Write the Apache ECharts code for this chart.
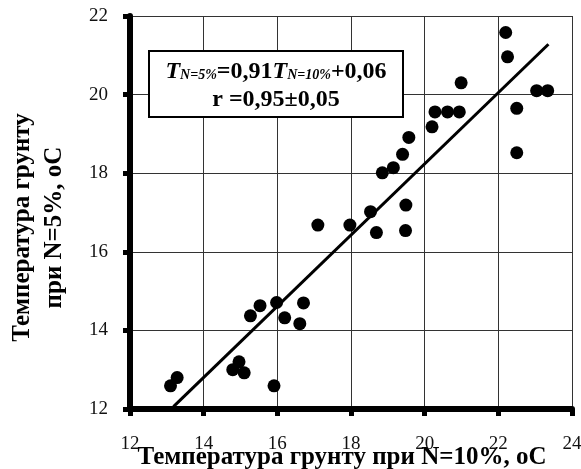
<!DOCTYPE html>
<html>
<head>
    <meta charset="utf-8">
    <script src="https://cdn.jsdelivr.net/npm/echarts/dist/echarts.min.js"></script>
</head>
<body style="margin:0;background:#fff;">
<div id="main" style="width:581px;height:469px;"></div>
<script type="text/javascript">
    // температура при N=10% (x) і N=5% (y)
    var tempN10 = [22.20, 22.25, 20.99, 23.04, 23.34, 22.50, 20.28, 20.62, 20.94, 20.20, 22.50,
                   19.57, 19.40, 19.15, 18.85, 19.49, 18.53, 17.10, 17.97, 18.69, 19.48,
                   15.53, 15.98, 16.71, 15.27, 16.20, 16.61, 14.96, 14.79, 15.10, 13.28, 13.10, 15.91];
    var tempN5  = [21.58, 20.96, 20.30, 20.10, 20.10, 19.65, 19.56, 19.56, 19.56, 19.18, 18.52,
                   18.91, 18.48, 18.14, 18.01, 17.19, 17.02, 16.68, 16.68, 16.49, 16.54,
                   14.63, 14.71, 14.70, 14.37, 14.32, 14.17, 13.20, 13.00, 12.92, 12.80, 12.59, 12.59];
    // лінія регресії, кінці
    var fitX = [13.18, 23.36];
    var fitY = [12.06, 21.28];
    var xTicks = [12, 24, 2];
    var yTicks = [12, 22, 2];

    var points = [];
    for (var i = 0; i < tempN10.length; i++) {
        points.push([tempN10[i], tempN5[i]]);
    }
    var fitLine = [[fitX[0], fitY[0]], [fitX[1], fitY[1]]];

    var font = 'Liberation Serif';
    var myChart = echarts.init(document.getElementById('main'));

    var option = {
        animation: false,
        backgroundColor: '#fff',
        grid: {left: 130, right: 9, top: 16, bottom: 60, containLabel: false, outerBoundsMode: 'none'},
        xAxis: {
            type: 'value',
            min: xTicks[0], max: xTicks[1], interval: xTicks[2],
            name: 'Температура грунту при N=10%, оС',
            nameLocation: 'middle',
            nameGap: 36,
            nameMoveOverlap: false,
            nameTextStyle: {
                fontFamily: font, fontSize: 25, fontWeight: 'bold', color: '#000',
                lineHeight: 25, padding: [0, 18, 0, 0]
            },
            axisLine: {show: true, lineStyle: {color: '#000', width: 6}},
            axisTick: {show: true, length: 7, lineStyle: {color: '#000', width: 5}},
            axisLabel: {fontFamily: font, fontSize: 19, color: '#111', margin: 26},
            splitLine: {show: true, lineStyle: {color: '#333', width: 1}}
        },
        yAxis: {
            type: 'value',
            min: yTicks[0], max: yTicks[1], interval: yTicks[2],
            name: 'Температура грунту\nпри N=5%, оС',
            nameLocation: 'middle',
            nameGap: 59,
            nameMoveOverlap: false,
            nameTextStyle: {
                fontFamily: font, fontSize: 25, fontWeight: 'bold', color: '#000',
                lineHeight: 32, padding: [0, 30, 0, 0]
            },
            axisLine: {show: true, lineStyle: {color: '#000', width: 6}},
            axisTick: {show: true, length: 7, lineStyle: {color: '#000', width: 5}},
            axisLabel: {fontFamily: font, fontSize: 19, color: '#111', margin: 22},
            splitLine: {show: true, lineStyle: {color: '#333', width: 1}}
        },
        graphic: [
            {
                type: 'rect', left: 148, top: 50, z: 100,
                shape: {width: 254, height: 66},
                style: {fill: '#fff', stroke: '#000', lineWidth: 2}
            },
            {
                type: 'text', x: 276, y: 84, z: 101,
                style: {
                    text: '{t|T}{s|N=5%}{n|=0,91}{t|T}{s|N=10%}{n|+0,06}\n{n|r =0,95±0,05}',
                    align: 'center', verticalAlign: 'middle',
                    rich: {
                        t: {fontFamily: font, fontSize: 24, fontWeight: 'bold', fontStyle: 'italic', fill: '#000', lineHeight: 28, verticalAlign: 'bottom'},
                        s: {fontFamily: font, fontSize: 14, fontWeight: 'bold', fontStyle: 'italic', fill: '#000', lineHeight: 28, verticalAlign: 'bottom', padding: [0, 0, 2, 0]},
                        n: {fontFamily: font, fontSize: 24, fontWeight: 'bold', fill: '#000', lineHeight: 28, verticalAlign: 'bottom'}
                    }
                }
            }
        ],
        series: [
            {
                type: 'scatter',
                data: points,
                symbol: 'circle',
                symbolSize: 13,
                itemStyle: {color: '#000', opacity: 1},
                z: 3
            },
            {
                type: 'line',
                data: fitLine,
                symbol: 'none',
                lineStyle: {color: '#000', width: 3},
                z: 2
            }
        ]
    };

    myChart.setOption(option);
</script>
</body>
</html>
